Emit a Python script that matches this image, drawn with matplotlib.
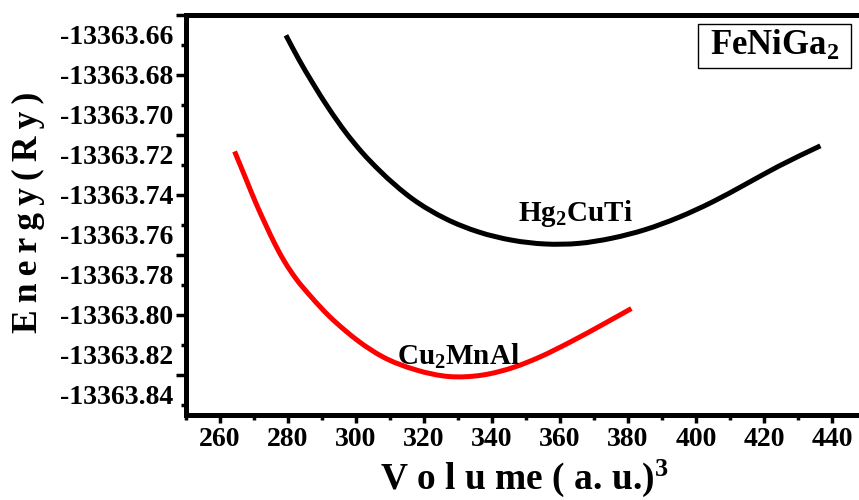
"""
E-V curves for FeNiGa2 in the Hg2CuTi and Cu2MnAl structures.
"""

import matplotlib
matplotlib.use("Agg")
import matplotlib.pyplot as plt
import numpy as np
from matplotlib.path import Path
from matplotlib.patches import PathPatch, Rectangle
from matplotlib.ticker import FixedLocator, MultipleLocator

plt.rcParams["font.family"] = ["Liberation Serif", "DejaVu Serif"]
plt.rcParams["font.weight"] = "bold"
plt.rcParams["mathtext.fontset"] = "custom"
plt.rcParams["mathtext.rm"] = "Liberation Serif:bold"
plt.rcParams["mathtext.it"] = "Liberation Serif:italic:bold"
plt.rcParams["mathtext.bf"] = "Liberation Serif:bold"

E0 = -13363.0  # energies below are stored as offsets from this

# Hg2CuTi-type structure
vol_hg = [279.4, 283.1, 287.1, 292.0, 296.9, 301.8, 306.7, 316.5, 326.3, 336.1,
          345.9, 355.7, 365.5, 375.3, 385.1, 394.9, 404.7, 414.5, 424.3, 436.6]
en_hg = [-0.6603, -0.6721, -0.6837, -0.6969, -0.7087, -0.7189, -0.7276, -0.7420,
         -0.7520, -0.7587, -0.7628, -0.7647, -0.7644, -0.7618, -0.7575, -0.7514,
         -0.7438, -0.7349, -0.7258, -0.7156]

# Cu2MnAl-type structure
vol_cu = [264.3, 267.5, 270.4, 273.4, 276.3, 279.2, 282.2, 287.1, 292.0, 296.9,
          300.8, 307.6, 317.5, 327.3, 337.1, 346.9, 353.6, 363.3, 373.4, 381.0]
en_cu = [-0.7184, -0.7316, -0.7436, -0.7549, -0.7652, -0.7741, -0.7817, -0.7917,
         -0.8006, -0.8081, -0.8134, -0.8209, -0.8276, -0.8310, -0.8303, -0.8261,
         -0.8216, -0.8135, -0.8042, -0.7970]

# y labels every 0.02, tick marks every 0.03 (Origin export)
ylabel_vals = [-0.66, -0.68, -0.70, -0.72, -0.74, -0.76, -0.78, -0.80, -0.82, -0.84]
ytick_major = [-0.65, -0.68, -0.71, -0.74, -0.77, -0.80, -0.83]
ytick_minor = [-0.665, -0.695, -0.725, -0.755, -0.785, -0.815, -0.845]


def spline_path(xs, ys):
    """Smooth cubic Hermite path through the points (x as the curve parameter)."""
    x = np.asarray(xs, float)
    y = np.asarray(ys, float)
    h = np.diff(x)
    s = np.diff(y) / h
    m = np.empty_like(x)
    m[0], m[-1] = s[0], s[-1]
    # three-point slope, weighted by the neighbouring intervals
    m[1:-1] = (s[:-1] * h[1:] + s[1:] * h[:-1]) / (h[:-1] + h[1:])

    verts = [(x[0], y[0])]
    codes = [Path.MOVETO]
    for i in range(len(x) - 1):
        d = h[i] / 3.0
        verts += [(x[i] + d, y[i] + m[i] * d),
                  (x[i + 1] - d, y[i + 1] - m[i + 1] * d),
                  (x[i + 1], y[i + 1])]
        codes += [Path.CURVE4] * 3
    return Path(verts, codes)


def draw_curve(ax, xs, ys, color):
    path = spline_path(xs, [E0 + e for e in ys])
    ax.add_patch(PathPatch(path, fill=False, ec=color, lw=3.6, capstyle="butt"))


def main():
    fig = plt.figure(figsize=(8.59, 5.0), dpi=100)
    ax = fig.add_axes([0.2165, 0.171, 0.7916, 0.7996])

    draw_curve(ax, vol_hg, en_hg, "black")
    draw_curve(ax, vol_cu, en_cu, "red")

    ax.set_xlim(250, 450)
    ax.set_ylim(E0 - 0.85, E0 - 0.65)

    for side in ("left", "bottom", "top", "right"):
        ax.spines[side].set_linewidth(3.6)

    # x axis
    ax.xaxis.set_major_locator(MultipleLocator(20))
    ax.xaxis.set_minor_locator(MultipleLocator(10))
    ax.set_xticks(range(260, 441, 20))
    ax.tick_params(axis="x", which="major", direction="out", length=6, width=2.5,
                   labelsize=20, pad=3)
    ax.tick_params(axis="x", which="minor", direction="out", length=3.5, width=2.5)

    # y axis: marks only on the main axis
    ax.yaxis.set_major_locator(FixedLocator([E0 + v for v in ytick_major]))
    ax.yaxis.set_minor_locator(FixedLocator([E0 + v for v in ytick_minor]))
    ax.tick_params(axis="y", which="major", direction="out", length=7, width=2.5,
                   labelleft=False)
    ax.tick_params(axis="y", which="minor", direction="out", length=3.5, width=2.5)

    # labels on a secondary axis so they sit at their own positions
    sec = ax.secondary_yaxis("left")
    sec.spines["left"].set_visible(False)
    sec.set_yticks([E0 + v for v in ylabel_vals],
                   [f"{E0 + v:.2f}" for v in ylabel_vals])
    sec.tick_params(axis="y", length=0, labelsize=20, pad=9)
    sec.yaxis.set_minor_locator(FixedLocator([]))

    ax.set_xlabel("V o l u me ( a. u.)$^{3}$", fontsize=27, fontweight="bold")
    ax.xaxis.label.set_verticalalignment("baseline")
    ax.xaxis.set_label_coords(0.497, -0.186)
    fig.text(0.033, 0.576, "E\u2009n\u2009e\u2009r\u2009g\u2009y\u2009(\u2009R\u2009y\u2009)",
             rotation=90, fontsize=25.5, fontweight="bold", ha="center", va="center")

    ax.text(364.5, E0 - 0.7533, "Hg$_2$CuTi", fontsize=21, fontweight="bold",
            ha="center", va="baseline")
    ax.text(330.2, E0 - 0.8251, "Cu$_2$MnAl", fontsize=21, fontweight="bold",
            ha="center", va="baseline")

    # compound name in a thin frame, top right
    ax.add_patch(Rectangle((0.753, 0.8667), 0.225, 0.110, transform=ax.transAxes,
                           fc="white", ec="black", lw=1, zorder=3))
    ax.text(0.8655, 0.922, "FeNiGa$_2$", transform=ax.transAxes, fontsize=25,
            fontweight="bold", ha="center", va="center", zorder=4)

    fig.savefig("out.png", dpi=100)
    plt.close(fig)


if __name__ == "__main__":
    main()
